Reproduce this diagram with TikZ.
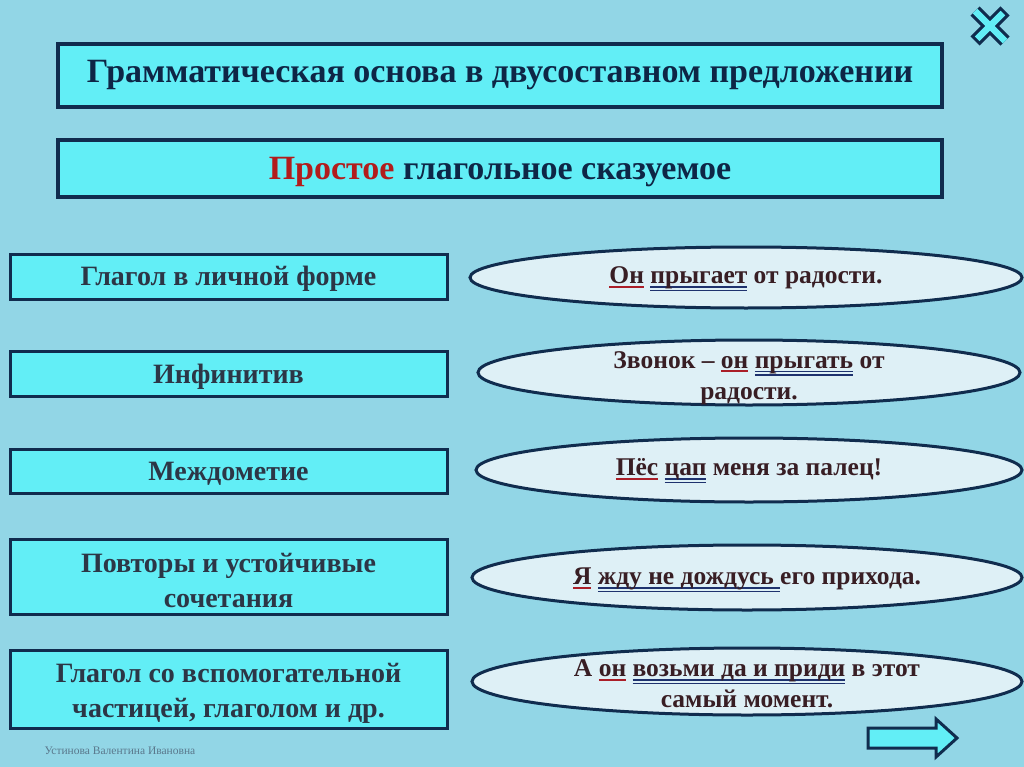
\documentclass[tikz,border=0pt]{standalone}
\usepackage{fontspec}
\setmainfont{Liberation Serif}
\usetikzlibrary{positioning}
\definecolor{WaterBlue}{RGB}{146,214,230}
\definecolor{BoxCyan}{RGB}{98,238,246}
\definecolor{FrameNavy}{RGB}{16,44,78}
\definecolor{TitleNavy}{RGB}{14,38,70}
\definecolor{LabelGray}{RGB}{44,54,70}
\definecolor{OvalFill}{RGB}{222,240,246}
\definecolor{ExampleBrown}{RGB}{56,30,36}
\definecolor{SubjRed}{RGB}{170,30,40}
\definecolor{PredBlue}{RGB}{30,50,110}
\definecolor{AccentRed}{RGB}{178,28,28}
\definecolor{NoteGray}{RGB}{90,120,140}

% podlezhashchee / skazuemoe
\newcommand{\subj}[1]{\setbox0\hbox{#1}\rlap{\color{SubjRed}\rule[-4pt]{\wd0}{2pt}}\box0\relax}
\newcommand{\pred}[1]{\setbox0\hbox{#1}\rlap{\color{PredBlue}\rule[-4pt]{\wd0}{1.6pt}\hspace{-\wd0}\rule[-7.5pt]{\wd0}{1.6pt}}\box0\relax}

\begin{document}
\begin{tikzpicture}[x=1pt,y=-1pt,
    headframe/.style={draw=FrameNavy,line width=3.5pt,fill=BoxCyan},
    headtext/.style={inner sep=0pt,font=\bfseries\fontsize{34}{38}\selectfont,text=TitleNavy},
    kindframe/.style={draw=FrameNavy,line width=3pt,fill=BoxCyan},
    kindtext/.style={inner sep=0pt,align=center,font=\bfseries\fontsize{28}{35}\selectfont,text=LabelGray},
    exoval/.style={draw=FrameNavy,line width=3pt,fill=OvalFill},
    extext/.style={inner sep=0pt,align=center,font=\bfseries\fontsize{25.5}{31}\selectfont,text=ExampleBrown}]
  \useasboundingbox (0,0) rectangle (1024,767);
  \fill[WaterBlue] (0,0) rectangle (1024,767);

  % zagolovki
  \path[headframe] (58,44) rectangle (942,107);
  \node[headtext] (title) at (500,75)
    {Грамматическая основа в двусоставном предложении};
  \path[headframe] (58,140) rectangle (942,197);
  \node[headtext] (subtitle) at (500,172)
    {{\color{AccentRed}Простое} глагольное сказуемое};

  % vidy skazuemogo
  \path[kindframe] (10,254) rectangle (447,299);
  \node[kindtext] (kind1) at (228.5,279) {Глагол в личной форме};
  \path[kindframe] (10,351) rectangle (447,396);
  \node[kindtext] (kind2) at (228.5,377) {Инфинитив};
  \path[kindframe] (10,449) rectangle (447,493);
  \node[kindtext] (kind3) at (228.5,474) {Междометие};
  \path[kindframe] (10,539) rectangle (447,614);
  \node[kindtext] (kind4) at (228.5,580) {Повторы и устойчивые\\сочетания};
  \path[kindframe] (10,650) rectangle (447,728);
  \node[kindtext] (kind5) at (228.5,693) {Глагол со вспомогательной\\частицей, глаголом и др.};

  % primery
  \path[exoval] (746,277.5) ellipse [x radius=276,y radius=30.5];
  \node[extext] (ex1) at (746,279) {\subj{Он} \pred{прыгает} от радости.};
  \path[exoval] (749,372.5) ellipse [x radius=271,y radius=32.5];
  \node[extext] (ex2) at (749,378) {Звонок -- \subj{он} \pred{прыгать} от\\радости.};
  \path[exoval] (749,470) ellipse [x radius=273,y radius=32];
  \node[extext] (ex3) at (749,471) {\subj{Пёс} \pred{цап} меня за палец!};
  \path[exoval] (747,577.5) ellipse [x radius=275,y radius=32.5];
  \node[extext] (ex4) at (747,580) {\subj{Я} \pred{жду не дождусь }его прихода.};
  \path[exoval] (747,681.5) ellipse [x radius=275,y radius=33.5];
  \node[extext] (ex5) at (747,684) {А \subj{он} \pred{возьми да и приди} в этот\\самый момент.};

  % knopki
  \draw[FrameNavy,line width=13pt] (975,11) -- (1005,41) (975,41) -- (1005,11);
  \draw[BoxCyan,line width=6.5pt,shorten <=3pt,shorten >=3pt] (975,11) -- (1005,41) (975,41) -- (1005,11);
  \draw[FrameNavy,line width=3pt,fill=BoxCyan,line join=miter]
    (868,728) -- (936,728) -- (936,719) -- (957,738) -- (936,757) -- (936,748) -- (868,748) -- cycle;

  \node[font=\fontsize{11.5}{13}\selectfont,text=NoteGray] (author) at (120,751) {Устинова Валентина Ивановна};
\end{tikzpicture}
\end{document}
